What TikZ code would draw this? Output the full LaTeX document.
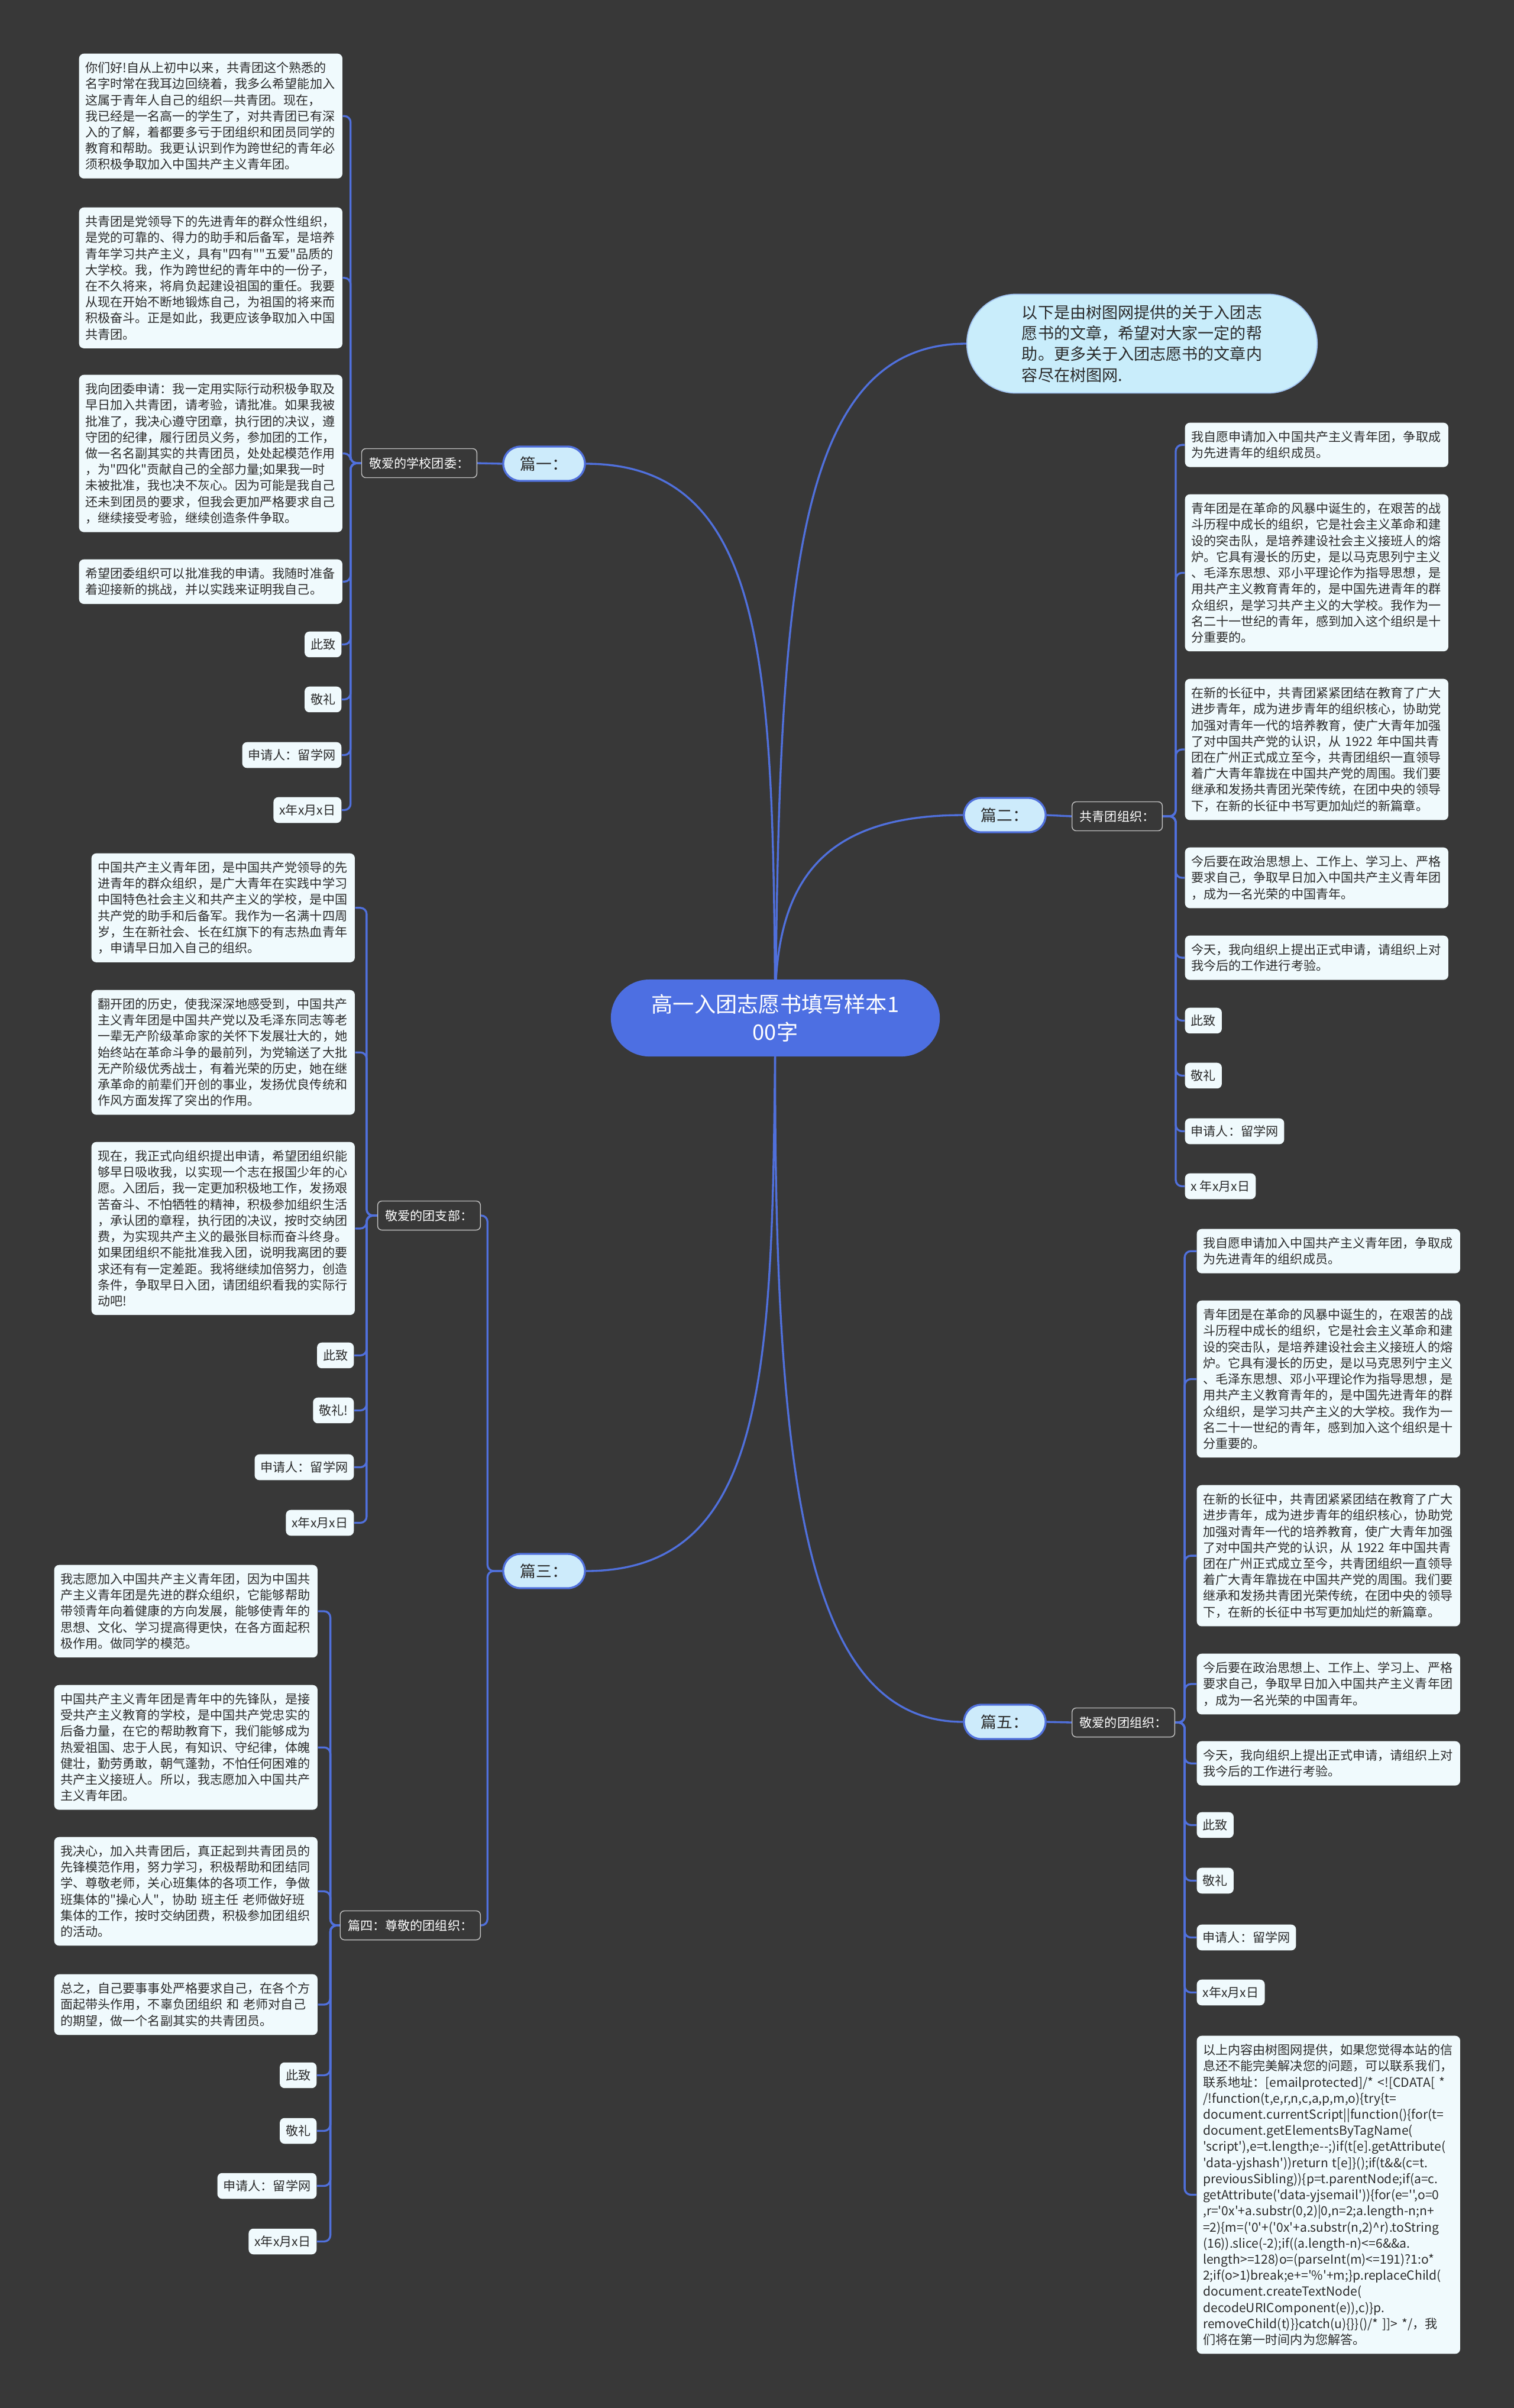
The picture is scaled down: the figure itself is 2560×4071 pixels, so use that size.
\documentclass[tikz,border=0pt]{standalone}
\usepackage{fontspec}
\newfontfamily\cjk{Noto Sans CJK SC}
\usetikzlibrary{backgrounds}
\definecolor{bgc}{HTML}{383838}
\definecolor{linec}{HTML}{5070DC}
\definecolor{leafc}{HTML}{F0FAFD}
\definecolor{lvone}{HTML}{CDEBFB}
\definecolor{ctrc}{HTML}{4D6FE2}
\definecolor{txtc}{HTML}{2B2B2B}
\definecolor{bubc}{HTML}{C9EDFB}
\tikzset{
 conn/.style={draw=linec, line width=0.95pt, rounded corners=3pt},
 leafbox/.style={fill=leafc, rounded corners=2.3pt, text=txtc, font=\cjk\fontsize{6}{7.74}\selectfont, align=left, text width=4.24cm, inner xsep=0.105cm, inner ysep=0.14cm},
 smallbox/.style={fill=leafc, rounded corners=2.3pt, text=txtc, font=\cjk\fontsize{6}{7.74}\selectfont, inner xsep=0.1cm, inner ysep=0.12cm},
 labelbox/.style={fill=bgc, draw=white!70!bgc, line width=0.4pt, rounded corners=2pt, text=white, font=\cjk\fontsize{6}{7.74}\selectfont, inner xsep=0.13cm, minimum height=0.49cm},
 topicbox/.style={fill=lvone, draw=linec, line width=0.95pt, rounded corners=0.29cm, text=txtc, font=\cjk\fontsize{7.6}{9}\selectfont, minimum width=1.38cm, minimum height=0.58cm},
 ctrbox/.style={fill=ctrc, rounded corners=0.65cm, text=white, font=\cjk\fontsize{10.3}{13.3}\selectfont, align=center, minimum width=5.56cm, minimum height=1.3cm},
 bubble/.style={fill=bubc, draw=linec!35!bubc, line width=0.5pt, rounded corners=0.83cm, text=txtc, font=\cjk\fontsize{7.7}{10}\selectfont, align=left, minimum width=5.92cm, minimum height=1.67cm},
}
\begin{document}
\begin{tikzpicture}[x=0.01cm,y=-0.01cm]
\useasboundingbox (0,0) rectangle (2560,4071);

% centre and main topics
\node[ctrbox] (c) at (1311,1721) {高一入团志愿书填写样本1\\00字};
\node[bubble] (b) at (1931,581) {以下是由树图网提供的关于入团志\\愿书的文章，希望对大家一定的帮\\助。更多关于入团志愿书的文章内\\容尽在树图网.};
\node[topicbox] (p1) at (920,784) {篇一：};
\node[topicbox] (p2) at (1699,1378) {篇二：};
\node[topicbox] (p3) at (920,2656) {篇三：};
\node[topicbox] (p5) at (1699,2911) {篇五：};

% second level labels
\node[labelbox, anchor=east] (l1) at (807,783) {敬爱的学校团委：};
\node[labelbox, anchor=west] (l2) at (1812,1380) {共青团组织：};
\node[labelbox, anchor=east] (l3a) at (813,2055) {敬爱的团支部：};
\node[labelbox, anchor=east] (l3b) at (813,3255) {篇四：尊敬的团组织：};
\node[labelbox, anchor=west] (l5) at (1812,2912) {敬爱的团组织：};

% ---- 篇一 leaves
\node[leafbox, anchor=north west] (a1) at (133,90) {你们好!自从上初中以来，共青团这个熟悉的\\名字时常在我耳边回绕着，我多么希望能加入\\这属于青年人自己的组织—共青团。现在，\\我已经是一名高一的学生了，对共青团已有深\\入的了解，着都要多亏于团组织和团员同学的\\教育和帮助。我更认识到作为跨世纪的青年必\\须积极争取加入中国共产主义青年团。};
\node[leafbox, anchor=north west] (a2) at (133,350) {共青团是党领导下的先进青年的群众性组织，\\是党的可靠的、得力的助手和后备军，是培养\\青年学习共产主义，具有"四有""五爱"品质的\\大学校。我，作为跨世纪的青年中的一份子，\\在不久将来，将肩负起建设祖国的重任。我要\\从现在开始不断地锻炼自己，为祖国的将来而\\积极奋斗。正是如此，我更应该争取加入中国\\共青团。};
\node[leafbox, anchor=north west] (a3) at (133,633) {我向团委申请：我一定用实际行动积极争取及\\早日加入共青团，请考验，请批准。如果我被\\批准了，我决心遵守团章，执行团的决议，遵\\守团的纪律，履行团员义务，参加团的工作，\\做一名名副其实的共青团员，处处起模范作用\\，为"四化"贡献自己的全部力量;如果我一时\\未被批准，我也决不灰心。因为可能是我自己\\还未到团员的要求，但我会更加严格要求自己\\，继续接受考验，继续创造条件争取。};
\node[leafbox, anchor=north west] (a4) at (133,945) {希望团委组织可以批准我的申请。我随时准备\\着迎接新的挑战，并以实践来证明我自己。};
\node[smallbox, anchor=north east] (a5) at (578,1067) {此致};
\node[smallbox, anchor=north east] (a6) at (578,1160) {敬礼};
\node[smallbox, anchor=north east] (a7) at (578,1254) {申请人：留学网};
\node[smallbox, anchor=north east] (a8) at (578,1347) {x年x月x日};

% ---- 篇三 leaves
\node[leafbox, anchor=north west] (b1) at (154,1442) {中国共产主义青年团，是中国共产党领导的先\\进青年的群众组织，是广大青年在实践中学习\\中国特色社会主义和共产主义的学校，是中国\\共产党的助手和后备军。我作为一名满十四周\\岁，生在新社会、长在红旗下的有志热血青年\\，申请早日加入自己的组织。};
\node[leafbox, anchor=north west] (b2) at (154,1673) {翻开团的历史，使我深深地感受到，中国共产\\主义青年团是中国共产党以及毛泽东同志等老\\一辈无产阶级革命家的关怀下发展壮大的，她\\始终站在革命斗争的最前列，为党输送了大批\\无产阶级优秀战士，有着光荣的历史，她在继\\承革命的前辈们开创的事业，发扬优良传统和\\作风方面发挥了突出的作用。};
\node[leafbox, anchor=north west] (b3) at (154,1930) {现在，我正式向组织提出申请，希望团组织能\\够早日吸收我，以实现一个志在报国少年的心\\愿。入团后，我一定更加积极地工作，发扬艰\\苦奋斗、不怕牺牲的精神，积极参加组织生活\\，承认团的章程，执行团的决议，按时交纳团\\费，为实现共产主义的最张目标而奋斗终身。\\如果团组织不能批准我入团，说明我离团的要\\求还有有一定差距。我将继续加倍努力，创造\\条件，争取早日入团，请团组织看我的实际行\\动吧!};
\node[smallbox, anchor=north east] (b4) at (599,2269) {此致};
\node[smallbox, anchor=north east] (b5) at (599,2362) {敬礼!};
\node[smallbox, anchor=north east] (b6) at (599,2458) {申请人：留学网};
\node[smallbox, anchor=north east] (b7) at (599,2552) {x年x月x日};

% ---- 篇四 leaves
\node[leafbox, anchor=north west] (d1) at (91,2645) {我志愿加入中国共产主义青年团，因为中国共\\产主义青年团是先进的群众组织，它能够帮助\\带领青年向着健康的方向发展，能够使青年的\\思想、文化、学习提高得更快，在各方面起积\\极作用。做同学的模范。};
\node[leafbox, anchor=north west] (d2) at (91,2848) {中国共产主义青年团是青年中的先锋队，是接\\受共产主义教育的学校，是中国共产党忠实的\\后备力量，在它的帮助教育下，我们能够成为\\热爱祖国、忠于人民，有知识、守纪律，体魄\\健壮，勤劳勇敢，朝气蓬勃，不怕任何困难的\\共产主义接班人。所以，我志愿加入中国共产\\主义青年团。};
\node[leafbox, anchor=north west] (d3) at (91,3105) {我决心，加入共青团后，真正起到共青团员的\\先锋模范作用，努力学习，积极帮助和团结同\\学、尊敬老师，关心班集体的各项工作，争做\\班集体的"操心人"，协助 班主任 老师做好班\\集体的工作，按时交纳团费，积极参加团组织\\的活动。};
\node[leafbox, anchor=north west] (d4) at (91,3337) {总之，自己要事事处严格要求自己，在各个方\\面起带头作用，不辜负团组织 和 老师对自己\\的期望，做一个名副其实的共青团员。};
\node[smallbox, anchor=north east] (d5) at (536,3486) {此致};
\node[smallbox, anchor=north east] (d6) at (536,3580) {敬礼};
\node[smallbox, anchor=north east] (d7) at (536,3673) {申请人：留学网};
\node[smallbox, anchor=north east] (d8) at (536,3767) {x年x月x日};

% ---- 篇二 leaves
\node[leafbox, anchor=north west] (e1) at (2003,714) {我自愿申请加入中国共产主义青年团，争取成\\为先进青年的组织成员。};
\node[leafbox, anchor=north west] (e2) at (2003,835) {青年团是在革命的风暴中诞生的，在艰苦的战\\斗历程中成长的组织，它是社会主义革命和建\\设的突击队，是培养建设社会主义接班人的熔\\炉。它具有漫长的历史，是以马克思列宁主义\\、毛泽东思想、邓小平理论作为指导思想，是\\用共产主义教育青年的，是中国先进青年的群\\众组织，是学习共产主义的大学校。我作为一\\名二十一世纪的青年，感到加入这个组织是十\\分重要的。};
\node[leafbox, anchor=north west] (e3) at (2003,1147) {在新的长征中，共青团紧紧团结在教育了广大\\进步青年，成为进步青年的组织核心，协助党\\加强对青年一代的培养教育，使广大青年加强\\了对中国共产党的认识，从 1922 年中国共青\\团在广州正式成立至今，共青团组织一直领导\\着广大青年靠拢在中国共产党的周围。我们要\\继承和发扬共青团光荣传统，在团中央的领导\\下，在新的长征中书写更加灿烂的新篇章。};
\node[leafbox, anchor=north west] (e4) at (2003,1432) {今后要在政治思想上、工作上、学习上、严格\\要求自己，争取早日加入中国共产主义青年团\\，成为一名光荣的中国青年。};
\node[leafbox, anchor=north west] (e5) at (2003,1581) {今天，我向组织上提出正式申请，请组织上对\\我今后的工作进行考验。};
\node[smallbox, anchor=north west] (e6) at (2003,1703) {此致};
\node[smallbox, anchor=north west] (e7) at (2003,1796) {敬礼};
\node[smallbox, anchor=north west] (e8) at (2003,1890) {申请人：留学网};
\node[smallbox, anchor=north west] (e9) at (2003,1983) {x 年x月x日};

% ---- 篇五 leaves
\node[leafbox, anchor=north west] (f1) at (2023,2077) {我自愿申请加入中国共产主义青年团，争取成\\为先进青年的组织成员。};
\node[leafbox, anchor=north west] (f2) at (2023,2198) {青年团是在革命的风暴中诞生的，在艰苦的战\\斗历程中成长的组织，它是社会主义革命和建\\设的突击队，是培养建设社会主义接班人的熔\\炉。它具有漫长的历史，是以马克思列宁主义\\、毛泽东思想、邓小平理论作为指导思想，是\\用共产主义教育青年的，是中国先进青年的群\\众组织，是学习共产主义的大学校。我作为一\\名二十一世纪的青年，感到加入这个组织是十\\分重要的。};
\node[leafbox, anchor=north west] (f3) at (2023,2510) {在新的长征中，共青团紧紧团结在教育了广大\\进步青年，成为进步青年的组织核心，协助党\\加强对青年一代的培养教育，使广大青年加强\\了对中国共产党的认识，从 1922 年中国共青\\团在广州正式成立至今，共青团组织一直领导\\着广大青年靠拢在中国共产党的周围。我们要\\继承和发扬共青团光荣传统，在团中央的领导\\下，在新的长征中书写更加灿烂的新篇章。};
\node[leafbox, anchor=north west] (f4) at (2023,2795) {今后要在政治思想上、工作上、学习上、严格\\要求自己，争取早日加入中国共产主义青年团\\，成为一名光荣的中国青年。};
\node[leafbox, anchor=north west] (f5) at (2023,2943) {今天，我向组织上提出正式申请，请组织上对\\我今后的工作进行考验。};
\node[smallbox, anchor=north west] (f6) at (2023,3063) {此致};
\node[smallbox, anchor=north west] (f7) at (2023,3157) {敬礼};
\node[smallbox, anchor=north west] (f8) at (2023,3253) {申请人：留学网};
\node[smallbox, anchor=north west] (f9) at (2023,3346) {x年x月x日};
\node[leafbox, anchor=north west] (f10) at (2023,3441) {以上内容由树图网提供，如果您觉得本站的信\\息还不能完美解决您的问题，可以联系我们，\\联系地址：[emailprotected]/* <![CDATA[ *\\/!function(t,e,r,n,c,a,p,m,o)\{try\{t=\\document.currentScript||function()\{for(t=\\document.getElementsByTagName(\\'script'),e=t.length;e-{}-;)if(t[e].getAttribute(\\'data-yjshash'))return t[e]\}();if(t\&\&(c=t.\\previousSibling))\{p=t.parentNode;if(a=c.\\getAttribute('data-yjsemail'))\{for(e='{}',o=0\\,r='0x'+a.substr(0,2)|0,n=2;a.length-n;n+\\=2)\{m=('0'+('0x'+a.substr(n,2)\char94 r).toString\\(16)).slice(-2);if((a.length-n)<=6\&\&a.\\length>=128)o=(parseInt(m)<=191)?1:o*\\2;if(o>1)break;e+='\%'+m;\}p.replaceChild(\\document.createTextNode(\\decodeURIComponent(e)),c)\}p.\\removeChild(t)\}\}catch(u)\{\}\}()/* ]]> */，我\\们将在第一时间内为您解答。};

\begin{scope}[on background layer]
\fill[bgc] (0,0) rectangle (2560,4071);
% centre to topics
\draw[conn] (c.center) .. controls (1306,1150) and (1306,784) .. (p1.east);
\draw[conn] (c.center) .. controls (1306,2300) and (1306,2656) .. (p3.east);
\draw[conn] (c.center) .. controls (1318,1000) and (1340,581) .. (b.west);
\draw[conn] (c.center) .. controls (1306,1500) and (1380,1378) .. (p2.west);
\draw[conn] (c.center) .. controls (1306,2500) and (1360,2911) .. (p5.west);
% topics to labels
\draw[conn] (p1.west) -- (l1.east);
\draw[conn] (p2.east) -- (l2.west);
\draw[conn] (p5.east) -- (l5.west);
\foreach \t in {l3a,l3b} \draw[conn] (p3.west) -- ++(-25,0) |- (\t.east);
% labels to leaves
\foreach \t in {a1,a2,a3,a4,a5,a6,a7,a8} \draw[conn] (l1.west) -- ++(-18,0) |- (\t.east);
\foreach \t in {b1,b2,b3,b4,b5,b6,b7} \draw[conn] (l3a.west) -- ++(-18,0) |- (\t.east);
\foreach \t in {d1,d2,d3,d4,d5,d6,d7,d8} \draw[conn] (l3b.west) -- ++(-16,0) |- (\t.east);
\foreach \t in {e1,e2,e3,e4,e5,e6,e7,e8,e9} \draw[conn] (l2.east) -- ++(22,0) |- (\t.west);
\foreach \t in {f1,f2,f3,f4,f5,f6,f7,f8,f9,f10} \draw[conn] (l5.east) -- ++(16,0) |- (\t.west);
\end{scope}
\end{tikzpicture}
\end{document}
